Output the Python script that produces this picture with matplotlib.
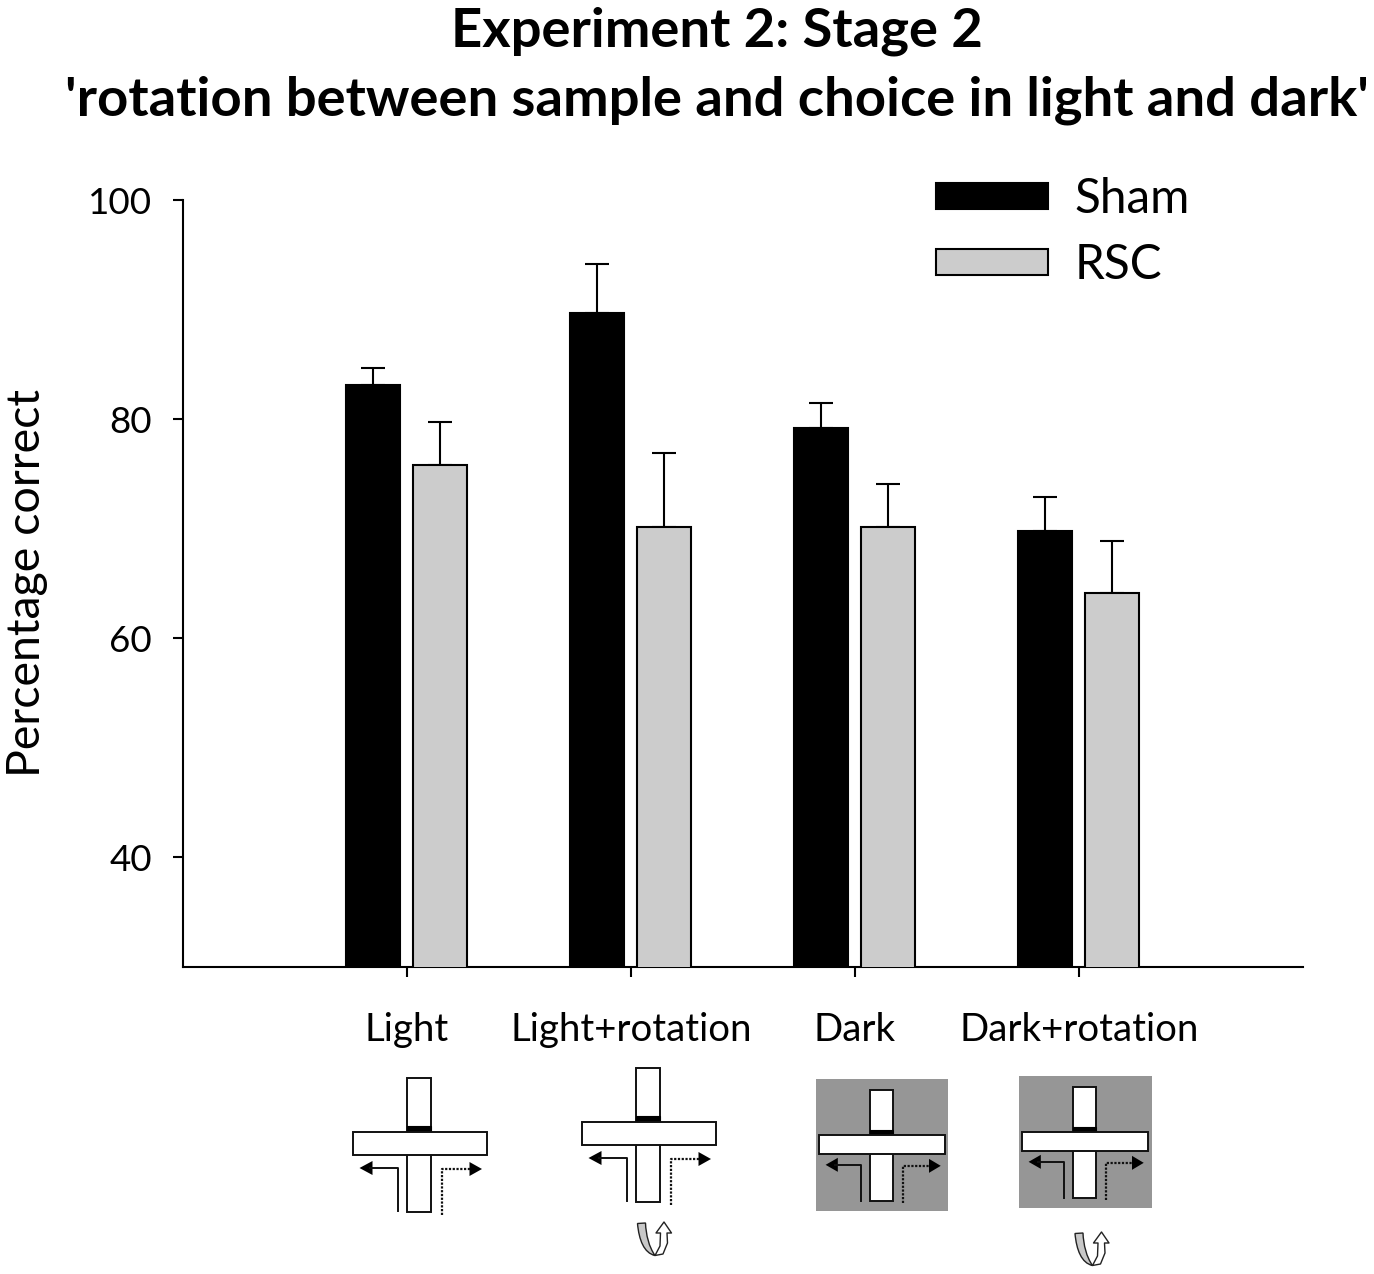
import matplotlib
matplotlib.use("Agg")
import matplotlib.pyplot as plt
from matplotlib.patches import Rectangle, Polygon, PathPatch
from matplotlib.path import Path

plt.rcParams['font.family'] = ['Lato', 'DejaVu Sans']

categories = ['Light', 'Light+rotation', 'Dark', 'Dark+rotation']
sham_values = [83.1, 89.7, 79.2, 69.8]
rsc_values = [75.8, 70.2, 70.2, 64.1]
sham_upper = [84.7, 94.2, 81.5, 72.9]
rsc_upper = [79.7, 76.9, 74.1, 68.9]
y_ticks = [40, 60, 80, 100]
series_names = ['Sham', 'RSC']
title_text = "Experiment 2: Stage 2\n'rotation between sample and choice in light and dark'"
y_label = 'Percentage correct'

W, H = 1374, 1274
fig = plt.figure(figsize=(W / 100, H / 100), dpi=100)
ax = fig.add_axes([183 / W, 1 - 967 / H, (1303 - 183) / W, (967 - 200) / H])

x = list(range(1, 5))
bw = 0.241
xs = [v - 0.150 for v in x]
xr = [v + 0.149 for v in x]
lw = 1.5
b1 = ax.bar(xs, sham_values, bw, color='black', edgecolor='black', linewidth=lw, label=series_names[0], zorder=3)
b2 = ax.bar(xr, rsc_values, bw, color='#CCCCCC', edgecolor='black', linewidth=lw, label=series_names[1], zorder=3)
ekw = dict(fmt='none', ecolor='black', elinewidth=1.5, capsize=8.6, capthick=1.5, zorder=2)
ax.errorbar(xs, sham_values, yerr=[[0] * 4, [u - v for u, v in zip(sham_upper, sham_values)]], **ekw)
ax.errorbar(xr, rsc_values, yerr=[[0] * 4, [u - v for u, v in zip(rsc_upper, rsc_values)]], **ekw)

ax.set_xlim(0, 5)
ax.set_ylim(30, 100)
ax.set_xticks(x, categories)
ax.set_yticks(y_ticks)
ax.tick_params(axis='x', length=7.2, width=1.5, labelsize=27.6, pad=25)
ax.tick_params(axis='y', length=7.2, width=1.5, labelsize=26.5, pad=15)
for s in ('top', 'right'):
    ax.spines[s].set_visible(False)
for s in ('left', 'bottom'):
    ax.spines[s].set_linewidth(1.5)

fig.text(27 / W, 1 - 583 / H, y_label, rotation=90, ha='center', va='center', fontsize=33.5)
fig.text(717 / W, 1 - 66 / H, title_text, ha='center', va='center', fontsize=39.2,
         fontweight='bold', linespacing=1.49)

ax.legend(loc='upper left', bbox_to_anchor=(917 / W, 1 - 158 / H), bbox_transform=fig.transFigure,
          frameon=False, fontsize=34.3, handlelength=2.35, handleheight=0.45, handletextpad=0.55,
          labelspacing=0.455, borderpad=0.4, borderaxespad=0)

# Maze schematics, drawn in figure pixel coordinates
ov = fig.add_axes([0, 0, 1, 1], zorder=5)
ov.set_xlim(0, W)
ov.set_ylim(H, 0)
ov.axis('off')


def maze(cx, cy, sx=1.0, sy=1.0, dark=None):
    if dark is not None:
        ov.add_patch(Rectangle((dark[0], dark[1]), dark[2], dark[3], fc='#969696', ec='none'))
    ec = '#111111'
    ov.add_patch(Rectangle((cx - 12.5 * sx, cy - 65.5 * sy), 24 * sx, 134 * sy, fc='white', ec=ec, lw=1.4))
    ov.add_patch(Rectangle((cx - 12.5 * sx, cy - 17.5 * sy), 24 * sx, 6.5 * sy, fc='black', ec='black', lw=0.8))
    ov.add_patch(Rectangle((cx - 67 * sx, cy - 11.5 * sy), 134 * sx, 23 * sy, fc='white', ec=ec, lw=1.4))
    ly = cy + 24.5 * sy
    ov.plot([cx - 22 * sx, cx - 22 * sx, cx - 50 * sx], [cy + 67.5 * sy, ly, ly], color=ec, lw=1.4)
    ov.add_patch(Polygon([(cx - 60 * sx, ly), (cx - 47 * sx, ly - 7), (cx - 47 * sx, ly + 7)], fc='black', ec='none'))
    ov.plot([cx + 22 * sx, cx + 22 * sx, cx + 50 * sx], [cy + 71 * sy, ly + 1, ly + 1], color=ec, lw=1.6, ls=(0, (1, 0.7)))
    ov.add_patch(Polygon([(cx + 62.5 * sx, ly + 1), (cx + 50 * sx, ly - 6), (cx + 50 * sx, ly + 8)], fc='black', ec='none'))


def rotation(dx, dy):
    gray = Path([(637.5 + dx, 1223.5 + dy), (639 + dx, 1240 + dy), (644 + dx, 1253 + dy), (655 + dx, 1255.5 + dy),
                 (649 + dx, 1247 + dy), (646 + dx, 1235 + dy), (645.5 + dx, 1223 + dy), (637.5 + dx, 1223.5 + dy)],
                [Path.MOVETO, Path.CURVE4, Path.CURVE4, Path.CURVE4, Path.CURVE4, Path.CURVE4, Path.CURVE4, Path.CLOSEPOLY])
    white = Polygon([(664 + dx, 1222 + dy), (671.5 + dx, 1233 + dy), (667 + dx, 1233 + dy), (667.5 + dx, 1243 + dy),
                     (663 + dx, 1254 + dy), (655 + dx, 1255.5 + dy), (660 + dx, 1246 + dy), (660.5 + dx, 1233 + dy),
                     (656 + dx, 1233 + dy)], fc='white', ec='#222222', lw=1.0, joinstyle='round')
    ov.add_patch(white)
    ov.add_patch(PathPatch(gray, fc='#C8C8C8', ec='#222222', lw=1.0))


maze(419.5, 1143.5)
maze(648.5, 1133.5)
maze(882, 1144.5, 0.94, 0.83, dark=(816, 1079, 132, 132))
maze(1085, 1141.5, 0.94, 0.83, dark=(1019, 1076, 133, 132))
rotation(0, 0)
rotation(437.5, 10)

fig.savefig('out.png', dpi=100)
